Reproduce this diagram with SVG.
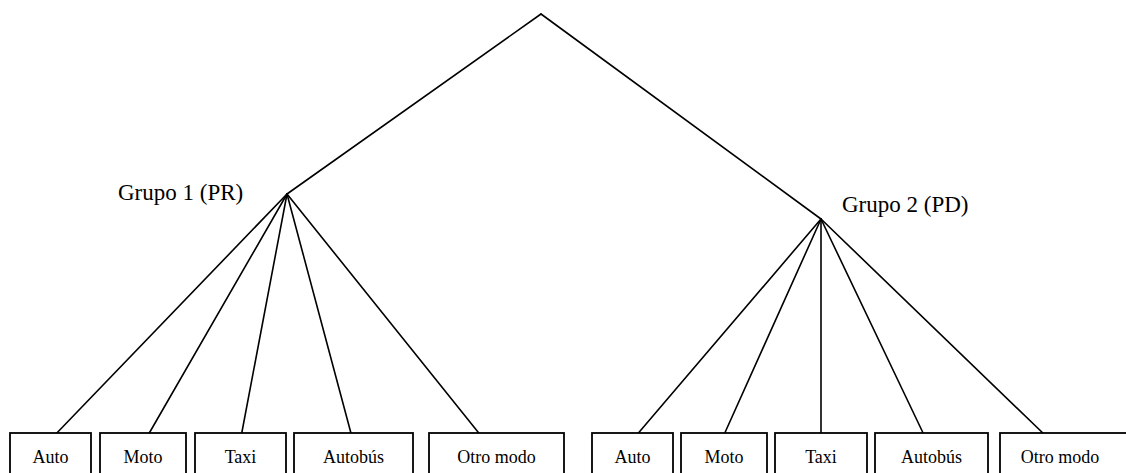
<svg xmlns="http://www.w3.org/2000/svg" width="1126" height="473" viewBox="0 0 1126 473">
<style>
.ln{stroke:#000;stroke-width:1.6;fill:none;stroke-linecap:round}
.bx{stroke:#000;stroke-width:1.8;fill:#fff}
.lb{font-family:"Liberation Serif",serif;font-size:18px;fill:#000;text-anchor:middle}
.gl{font-family:"Liberation Serif",serif;font-size:23px;fill:#000}
</style>
<rect width="1126" height="473" fill="#fff"/>
<g id="connectors">
<line class="ln" x1="541" y1="14" x2="287" y2="194"/>
<line class="ln" x1="541" y1="14" x2="821" y2="219"/>
<line class="ln" x1="287" y1="194" x2="53" y2="437"/>
<line class="ln" x1="287" y1="194" x2="147" y2="437"/>
<line class="ln" x1="287" y1="194" x2="241" y2="437"/>
<line class="ln" x1="287" y1="194" x2="352" y2="437"/>
<line class="ln" x1="287" y1="194" x2="482" y2="437"/>
<line class="ln" x1="821" y1="219" x2="635" y2="437"/>
<line class="ln" x1="821" y1="219" x2="723" y2="437"/>
<line class="ln" x1="821" y1="219" x2="821" y2="437"/>
<line class="ln" x1="821" y1="219" x2="925" y2="437"/>
<line class="ln" x1="821" y1="219" x2="1047" y2="437"/>
</g>
<g id="root"/>
<g id="grupo1"><text class="gl" x="118" y="200">Grupo 1 (PR)</text></g>
<g id="grupo2"><text class="gl" x="842" y="212">Grupo 2 (PD)</text></g>
<g id="g1-auto"><rect class="bx" x="10" y="433" width="81" height="50"/><text class="lb" x="50.5" y="463">Auto</text></g>
<g id="g1-moto"><rect class="bx" x="100" y="433" width="86" height="50"/><text class="lb" x="143" y="463">Moto</text></g>
<g id="g1-taxi"><rect class="bx" x="195" y="433" width="91" height="50"/><text class="lb" x="240.5" y="463">Taxi</text></g>
<g id="g1-autobus"><rect class="bx" x="294" y="433" width="119" height="50"/><text class="lb" x="353.5" y="463">Autobús</text></g>
<g id="g1-otro"><rect class="bx" x="429" y="433" width="135" height="50"/><text class="lb" x="496.5" y="463">Otro modo</text></g>
<g id="g2-auto"><rect class="bx" x="592" y="433" width="81" height="50"/><text class="lb" x="632.5" y="463">Auto</text></g>
<g id="g2-moto"><rect class="bx" x="681" y="433" width="86" height="50"/><text class="lb" x="724" y="463">Moto</text></g>
<g id="g2-taxi"><rect class="bx" x="775" y="433" width="92" height="50"/><text class="lb" x="821" y="463">Taxi</text></g>
<g id="g2-autobus"><rect class="bx" x="875" y="433" width="113" height="50"/><text class="lb" x="931.5" y="463">Autobús</text></g>
<g id="g2-otro"><rect class="bx" x="1000" y="433" width="130" height="50"/><text class="lb" x="1060" y="463">Otro modo</text></g>
</svg>
